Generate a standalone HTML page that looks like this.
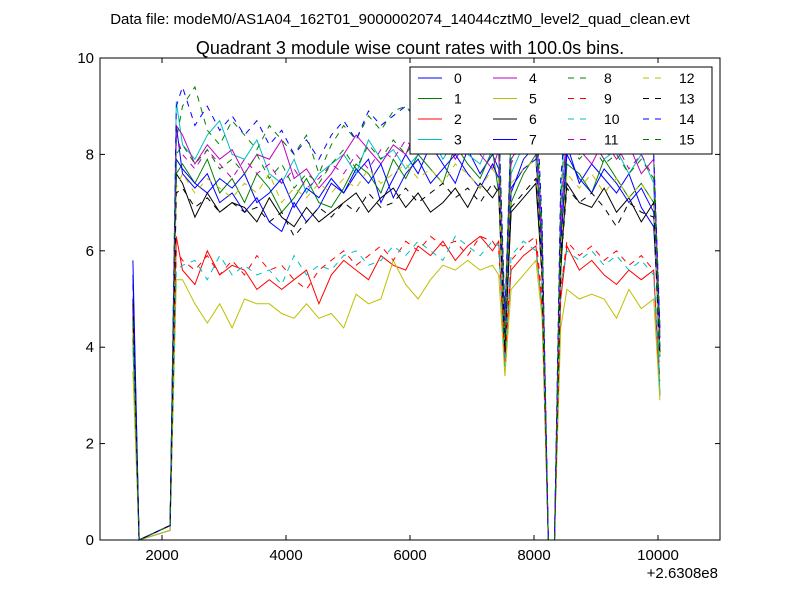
<!DOCTYPE html>
<html><head><meta charset="utf-8"><style>
body{margin:0;background:#fff;font-family:"Liberation Sans",sans-serif;}
</style></head><body>
<svg id="chart" width="800" height="600" xmlns="http://www.w3.org/2000/svg" font-family="Liberation Sans, sans-serif">
<rect width="800" height="600" fill="#fff"/>
<text x="400" y="24" font-size="15" text-anchor="middle">Data file: modeM0/AS1A04_162T01_9000002074_14044cztM0_level2_quad_clean.evt</text>
<text x="410" y="54" font-size="18" text-anchor="middle">Quadrant 3 module wise count rates with 100.0s bins.</text>
<g id="series"></g>
<rect x="100" y="58" width="620" height="482" fill="none" stroke="#000" stroke-width="1"/>
<g id="axes"></g>
<text x="718" y="578" font-size="15" text-anchor="end">+2.6308e8</text>
<g id="legend"></g>
</svg>
<script>
const times=[1530,1630,2130,2230,2330,2530,2730,2930,3130,3330,3530,3730,3930,4130,4330,4530,4730,4930,5130,5330,5530,5730,5930,6130,6330,6530,6730,6930,7130,7330,7430,7530,7630,7830,8030,8130,8230,8330,8430,8530,8730,8930,9130,9330,9530,9730,9930,10030];
const s0=[5.8,0,0.2,8.6,7.6,7.3,7.6,7.0,7.2,6.8,7.1,6.6,6.4,7.0,6.6,6.9,7.4,7.2,7.6,7.9,7.0,7.5,8.0,7.6,8.2,7.8,7.4,8.1,7.6,8.0,7.7,4.5,7.2,7.9,8.2,6.0,0,0,6.0,8.2,7.4,7.8,7.5,7.2,7.6,6.9,6.5,4.2];
const s1=[4.5,0,0.3,7.6,7.8,7.4,7.9,7.2,7.5,7.0,7.6,7.3,6.8,7.1,7.5,7.0,6.9,7.3,7.8,7.6,7.2,7.9,7.5,8.0,7.7,7.4,8.2,7.8,7.5,8.1,7.2,4.0,7.0,7.6,8.0,5.5,0,0,5.5,7.8,7.6,7.2,7.9,7.5,7.1,7.4,7.0,3.8];
const s2=[4.2,0,0.3,6.3,5.6,5.3,6.0,5.5,5.7,5.6,5.2,5.4,5.2,5.4,5.6,4.9,5.5,5.8,5.6,5.4,5.9,5.7,5.6,6.1,5.9,6.2,5.8,6.1,6.3,6.0,6.2,3.7,5.6,5.9,6.1,4.8,0,0,5.0,6.1,5.6,5.8,5.5,5.3,5.6,5.4,5.6,3.0];
const s3=[4.0,0,0.3,9.1,8.2,7.9,8.4,8.7,8.0,7.9,8.3,7.6,7.4,7.9,7.2,7.6,7.8,8.0,7.6,8.3,7.9,8.1,7.7,8.0,8.4,7.9,8.3,8.0,7.8,8.4,8.0,4.2,7.6,8.2,8.5,6.2,0,0,7.0,9.3,8.0,8.3,7.9,8.1,7.6,8.0,7.4,3.0];
const s4=[4.8,0,0.3,8.6,8.4,7.8,8.2,7.9,8.1,7.6,8.0,7.9,8.3,7.5,7.7,7.3,7.6,8.0,8.4,8.1,7.8,8.2,8.0,8.6,8.2,8.4,7.9,8.3,8.0,7.7,8.1,4.5,7.9,8.3,8.0,6.0,0,0,6.5,8.6,8.1,7.8,8.3,7.9,8.2,7.6,7.9,4.3];
const s5=[3.5,0,0.2,5.4,5.4,4.9,4.5,4.9,4.4,5.0,4.9,4.9,4.7,4.6,4.9,4.6,4.7,4.4,5.1,4.9,5.0,5.8,5.3,5.0,5.4,5.7,5.6,5.8,5.6,5.7,5.5,3.4,5.2,5.5,5.8,4.6,0,0,4.4,5.2,5.0,5.1,5.0,4.6,5.2,4.8,5.0,2.9];
const s6=[5.0,0,0.3,7.6,7.4,6.7,7.2,6.8,7.0,6.9,6.6,7.1,6.7,6.5,6.9,6.6,6.8,7.0,7.2,6.8,7.1,7.3,6.9,7.2,6.8,7.0,7.3,6.9,7.4,7.1,7.3,4.0,6.8,7.1,7.4,5.5,0,0,5.8,7.4,7.0,6.9,7.3,6.8,7.1,6.6,7.0,3.9];
const s7=[5.5,0,0.3,7.9,7.7,7.4,7.2,7.5,7.3,7.6,7.0,7.2,7.5,6.9,7.3,7.1,7.5,7.2,7.7,7.4,7.8,7.1,7.6,7.9,7.4,7.7,8.0,7.6,7.3,7.8,7.5,4.3,7.3,7.7,7.9,5.8,0,0,6.2,8.0,7.5,7.2,7.7,7.4,7.0,7.3,6.8,4.0];
const s8=[4.6,0,0.3,8.3,9.0,9.4,8.5,8.2,8.7,8.4,8.1,8.6,8.3,8.0,8.4,7.6,8.2,8.6,8.3,8.8,8.5,8.9,9.0,8.7,9.1,8.8,9.2,8.9,8.6,9.0,8.7,4.6,8.5,8.9,9.0,6.5,0,0,7.2,8.8,8.4,8.6,8.2,8.7,8.3,8.5,8.0,4.5];
const s9=[4.4,0,0.3,6.0,5.8,5.6,5.9,5.5,5.8,5.5,5.9,5.6,5.7,5.4,5.2,5.6,5.8,6.0,5.7,5.9,6.1,5.8,6.2,6.0,6.3,6.1,6.2,5.9,6.3,6.2,6.0,3.8,5.8,6.1,6.3,5.0,0,0,5.2,6.2,5.9,6.1,5.8,6.0,5.7,5.9,5.6,3.3];
const s10=[4.1,0,0.3,5.6,5.7,5.8,5.4,5.9,5.5,5.7,5.5,5.6,5.3,5.9,5.5,5.7,5.6,5.9,6.0,5.7,5.8,6.1,5.9,6.2,6.0,5.8,6.3,6.1,5.9,6.2,6.1,3.6,5.9,6.2,6.0,4.9,0,0,5.3,6.0,5.8,6.0,5.7,5.9,5.6,5.8,5.5,3.1];
const s11=[4.7,0,0.3,8.4,8.0,7.7,8.1,7.8,7.5,7.9,7.6,7.8,7.4,7.7,7.3,7.5,7.8,7.6,8.0,7.7,8.1,7.9,8.3,8.0,8.5,8.2,8.8,8.4,8.1,8.6,8.3,4.4,7.8,8.4,8.8,6.3,0,0,6.8,8.5,8.0,8.3,7.9,8.2,7.7,8.0,7.5,4.1];
const s12=[4.3,0,0.3,7.3,7.6,7.2,7.5,7.3,7.1,7.4,7.2,7.6,7.0,7.3,7.1,7.4,7.2,7.5,7.3,7.7,7.4,7.6,7.8,7.5,7.7,7.4,7.8,7.6,7.3,7.7,7.5,4.1,7.4,7.7,7.9,5.6,0,0,6.0,7.6,7.3,7.6,7.2,7.5,7.1,7.4,7.0,3.7];
const s13=[4.9,0,0.3,7.2,7.3,6.9,7.1,6.8,7.0,6.8,6.9,6.6,6.8,6.3,6.6,6.9,6.7,7.0,6.8,7.2,6.9,7.0,7.3,7.0,7.2,7.4,7.1,7.3,7.0,7.4,7.2,3.9,6.9,7.2,7.5,5.4,0,0,5.7,7.3,7.0,7.2,6.9,6.5,7.0,6.8,6.7,3.8];
const s14=[5.3,0,0.3,9.0,9.4,8.6,9.0,8.5,8.8,8.4,8.7,8.2,8.5,8.0,8.3,7.9,8.4,8.7,8.3,8.9,8.6,8.8,9.0,8.7,9.2,8.8,9.3,9.0,8.7,9.1,8.8,4.7,8.6,9.0,9.4,6.6,0,0,7.5,9.0,8.5,8.8,8.4,8.7,8.2,8.5,8.0,4.4];
const s15=[4.5,0,0.3,8.0,8.2,7.8,8.1,7.7,7.9,7.6,8.0,7.5,7.8,7.3,7.6,7.4,7.8,8.1,7.7,8.2,7.9,8.3,8.0,8.4,8.1,8.5,8.2,8.6,8.3,8.0,8.4,4.2,7.9,8.3,8.6,6.1,0,0,6.6,8.3,7.9,8.2,7.8,8.0,7.6,7.9,7.5,4.0];
const seriesValues=[s0,s1,s2,s3,s4,s5,s6,s7,s8,s9,s10,s11,s12,s13,s14,s15];
const seriesLabels=["0","1","2","3","4","5","6","7","8","9","10","11","12","13","14","15"];
const xTicks=[2000,4000,6000,8000,10000];
const yTicks=[0,2,4,6,8,10];

const colors=["#0000ff","#008000","#ff0000","#00bfbf","#bf00bf","#bfbf00","#000000"];
const NS="http://www.w3.org/2000/svg";
const X0=1000,X1=11000,PX0=100,PX1=720,Y0=0,Y1=10,PY0=540,PY1=58;
function sx(v){return PX0+(v-X0)/(X1-X0)*(PX1-PX0);}
function sy(v){return PY0+(v-Y0)/(Y1-Y0)*(PY1-PY0);}
function mk(tag,attrs,parent){const e=document.createElementNS(NS,tag);for(const k in attrs)e.setAttribute(k,attrs[k]);parent.appendChild(e);return e;}

const sg=document.getElementById('series');
seriesValues.forEach((vals,i)=>{
  const pts=vals.map((v,j)=>sx(times[j]).toFixed(1)+','+sy(v).toFixed(1)).join(' ');
  const pl=mk('polyline',{points:pts,fill:'none',stroke:colors[i%7],'stroke-width':1},sg);
  if(i>=8)pl.setAttribute('stroke-dasharray','6,6');
  
  
});

const ax=document.getElementById('axes');
xTicks.forEach(t=>{
  const x=sx(t);
  const l1=mk('line',{x1:x,x2:x,y1:PY0,y2:PY0-5,stroke:'#000'},ax);
  
  
  const l2=mk('line',{x1:x,x2:x,y1:PY1,y2:PY1+5,stroke:'#000'},ax);
  
  
  const tx=mk('text',{x:x,y:PY0+20,'font-size':15,'text-anchor':'middle'},ax);
  tx.textContent=t;
  
  
});
yTicks.forEach(t=>{
  const y=sy(t);
  const l1=mk('line',{x1:PX0,x2:PX0+5,y1:y,y2:y,stroke:'#000'},ax);
  
  
  const l2=mk('line',{x1:PX1,x2:PX1-5,y1:y,y2:y,stroke:'#000'},ax);
  
  
  const tx=mk('text',{x:PX0-6,y:y+5,'font-size':15,'text-anchor':'end'},ax);
  tx.textContent=t;
  
  
});

const lg=document.getElementById('legend');
const box=mk('rect',{x:410,y:67,width:302,height:87,fill:'#fff',stroke:'#000','stroke-width':1},lg);


seriesLabels.forEach((lab,i)=>{
  const col=Math.floor(i/4),row=i%4;
  const x=418+col*75,y=78+row*20.5;
  const ln=mk('line',{x1:x,x2:x+24,y1:y,y2:y,stroke:colors[i%7],'stroke-width':1},lg);
  if(i>=8)ln.setAttribute('stroke-dasharray','6,6');
  
  
  const tx=mk('text',{x:x+36,y:y+5,'font-size':14},lg);
  tx.textContent=lab;
  
  
});
</script>
</body></html>
